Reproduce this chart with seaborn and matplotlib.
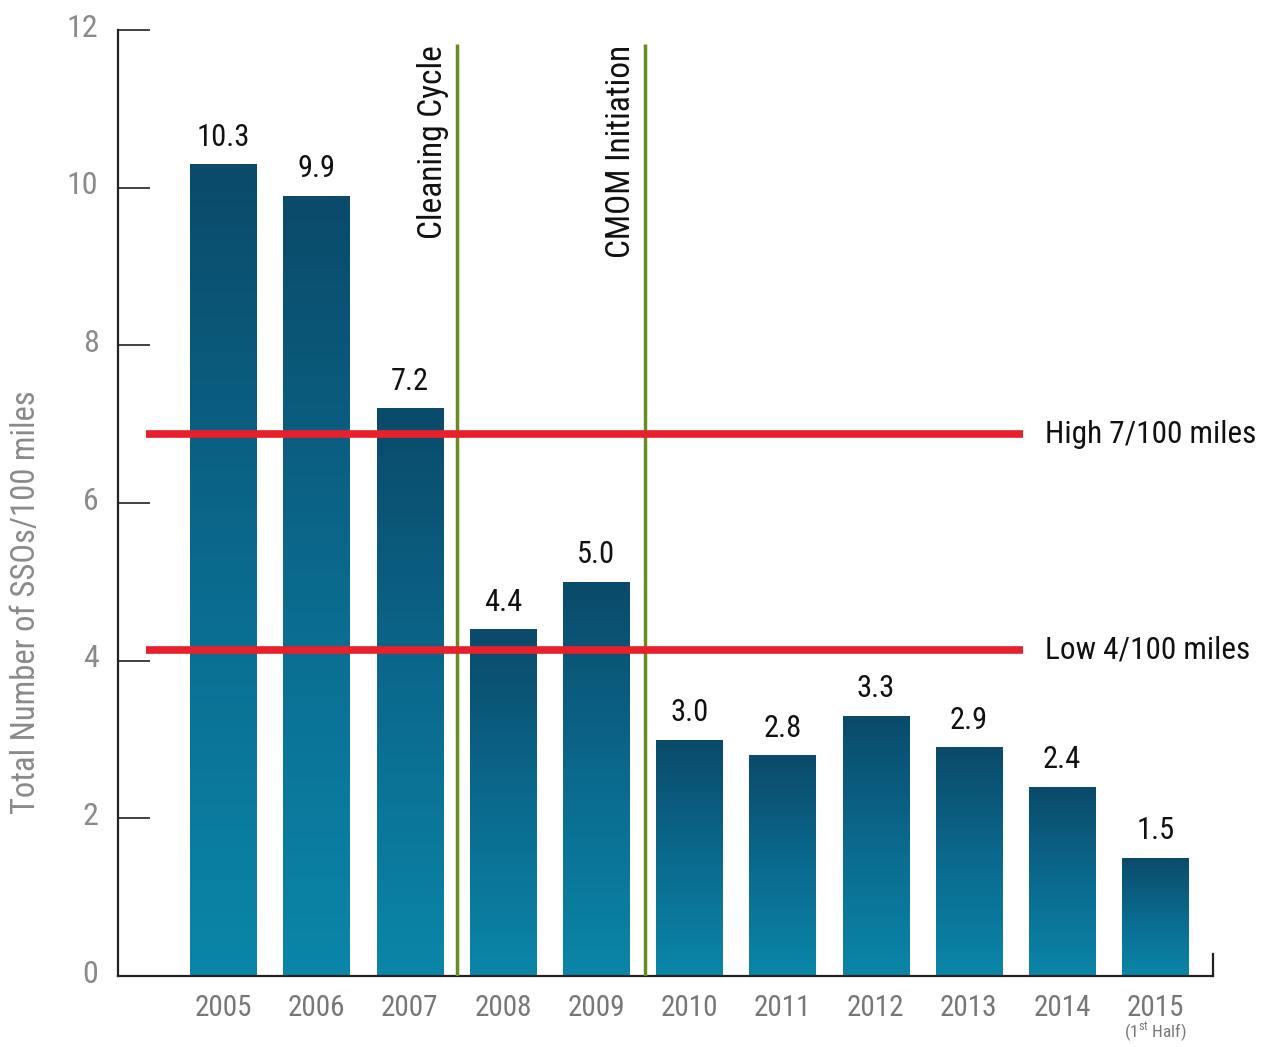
import numpy as np
import pandas as pd
import matplotlib
matplotlib.use("Agg")
import matplotlib.pyplot as plt
import matplotlib.transforms as mtransforms
from matplotlib import font_manager
from matplotlib.colors import LinearSegmentedColormap
import seaborn as sns

years = ["2005", "2006", "2007", "2008", "2009", "2010", "2011", "2012", "2013", "2014", "2015"]
values = [10.3, 9.9, 7.2, 4.4, 5.0, 3.0, 2.8, 3.3, 2.9, 2.4, 1.5]
value_labels = ["10.3", "9.9", "7.2", "4.4", "5.0", "3.0", "2.8", "3.3", "2.9", "2.4", "1.5"]
yticks = [0, 2, 4, 6, 8, 10, 12]
high_level = 6.87
low_level = 4.13
high_label = "High 7/100 miles"
low_label = "Low 4/100 miles"
event_pos = [2.51, 4.53]
event_labels = ["Cleaning Cycle", "CMOM Initiation"]

sns.set_theme(style="white")
installed = {f.name for f in font_manager.fontManager.ttflist}
prefs = ["Roboto Condensed", "Liberation Sans Narrow", "Roboto", "Liberation Sans"]
fam = [f for f in prefs if f in installed][:1] + ["DejaVu Sans"]
plt.rcParams['font.family'] = fam
plt.rcParams['mathtext.fontset'] = 'custom'
plt.rcParams['mathtext.rm'] = fam[0]

df = pd.DataFrame({"year": years, "value": values})

fig = plt.figure(figsize=(12.67, 10.47), dpi=100)
ax = fig.add_axes([0.0931, 0.0678, 0.8643, 0.9035])

sns.barplot(data=df, x="year", y="value", color="#0a6a90", width=0.71, ax=ax,
            saturation=1, edgecolor="none")

cmap = LinearSegmentedColormap.from_list("bar", ["#0a4a6a", "#0b6a8e", "#0a86a8"])
grad = np.linspace(0, 1, 256).reshape(-1, 1)
for p in ax.patches:
    x0, y0 = p.get_x(), p.get_y()
    w, h = p.get_width(), p.get_height()
    im = ax.imshow(grad, cmap=cmap, aspect="auto", extent=[x0, x0 + w, y0, y0 + h],
                   origin="upper", zorder=2, interpolation="bicubic")
    im.set_clip_path(p)

ax.set_xlim(-1.13, 10.62)
ax.set_ylim(0, 12)

# value labels
for i, (v, lab) in enumerate(zip(values, value_labels)):
    ax.annotate(lab, (i, v), xytext=(0, 9), textcoords="offset points",
                ha="center", va="bottom", fontsize=22, color="#111111")

# threshold lines
ax.hlines([high_level, low_level], -0.83, 8.58, colors="#e8202c", linewidth=5.5, zorder=4)
ax.text(8.82, high_level, high_label, fontsize=22.5, color="#111111", va="center", ha="left")
ax.text(8.82, low_level, low_label, fontsize=22.5, color="#111111", va="center", ha="left")

# event lines
for xp, lab in zip(event_pos, event_labels):
    ax.vlines(xp, 0, 11.82, colors="#6a8c1e", linewidth=2.5, zorder=3)
    ax.text(xp - 0.26, 11.81, lab, rotation=90, fontsize=24, color="#111111",
            ha="center", va="top")

# axes styling
ax.set_yticks(yticks)
ax.set_yticklabels([str(t) for t in yticks])
ax.tick_params(axis="y", direction="in", length=23, width=1.3, color="#333333",
               labelsize=23, labelcolor="#8a8a8a", pad=14, left=True)
ax.tick_params(axis="x", length=0, labelsize=21, labelcolor="#777777", pad=13)
offset = mtransforms.ScaledTranslation(0, 5 / 100, fig.dpi_scale_trans)
for lbl in ax.get_yticklabels():
    lbl.set_transform(lbl.get_transform() + offset)

ax.set_xlabel("")
ax.set_ylabel("Total Number of SSOs/100 miles", fontsize=23.5, color="#8a8a8a")
ax.yaxis.set_label_coords(-0.069, 0.395)

ax.spines["top"].set_visible(False)
for s in ["left", "bottom", "right"]:
    ax.spines[s].set_color("#222222")
    ax.spines[s].set_linewidth(1.6)
ax.spines["right"].set_bounds(0, 0.28)

ax.annotate(r"(1$^{\mathrm{st}}$ Half)", (10, 0), xytext=(0, -49), textcoords="offset points",
            ha="center", va="bottom", fontsize=12.5, color="#777777")

fig.savefig("out.png", dpi=100)
